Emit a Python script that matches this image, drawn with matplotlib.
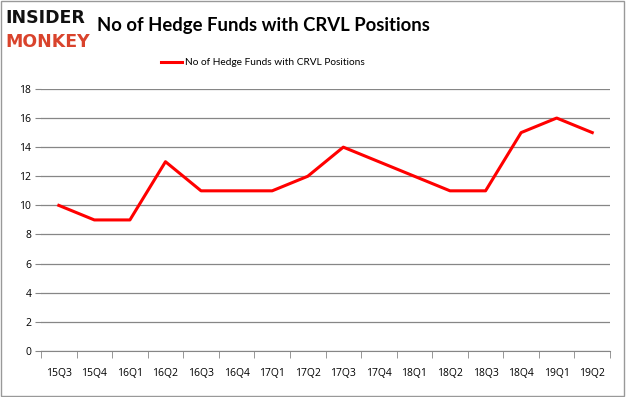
import numpy as np
import matplotlib
matplotlib.use("Agg")
import matplotlib.pyplot as plt

quarters = ["15Q3", "15Q4", "16Q1", "16Q2", "16Q3", "16Q4", "17Q1", "17Q2",
            "17Q3", "17Q4", "18Q1", "18Q2", "18Q3", "18Q4", "19Q1", "19Q2"]
funds = [10, 9, 9, 13, 11, 11, 11, 12, 14, 13, 12, 11, 11, 15, 16, 15]
series_name = "No of Hedge Funds with CRVL Positions"

plt.rcParams["font.family"] = ["Open Sans", "DejaVu Sans"]

fig = plt.figure(figsize=(6.26, 3.97), dpi=100)
ax = fig.add_axes([0.0655, 0.116, 0.909, 0.66])

x = np.arange(len(quarters))
ax.plot(x, funds, color="#ff0000", lw=2.2, label=series_name)

ax.set_xlim(-0.5, len(quarters) - 0.5)
ax.set_ylim(0, 18)
ax.set_yticks(np.arange(0, 19, 2))
ax.set_xticks(x)
ax.set_xticklabels(quarters)
ax.set_xticks(np.arange(-0.5, len(quarters), 1), minor=True)
ax.tick_params(axis="x", which="major", length=0, pad=12, labelsize=7.5)
ax.tick_params(axis="x", which="minor", length=5, color="#868686")
ax.tick_params(axis="y", length=4, color="#868686", labelsize=7.5, pad=3)
ax.grid(axis="y", color="#868686", lw=0.9)
ax.set_axisbelow(True)
for s in ["top", "right", "left"]:
    ax.spines[s].set_visible(False)
ax.spines["bottom"].set_color("#868686")

ax.legend(loc="center", bbox_to_anchor=(0.39, 1.1), frameon=False,
          prop={"family": "Lato", "size": 7.3}, handlelength=2.0,
          handletextpad=0.3)

fig.text(0.155, 0.935, series_name, fontsize=13.3, fontweight="bold",
         va="center", ha="left", family="Lato")
fig.text(0.008, 0.955, "INSIDER", fontsize=12.5, fontweight="black",
         va="center", ha="left", color="#111111", family="DejaVu Sans")
fig.text(0.008, 0.895, "MONKEY", fontsize=12.5, fontweight="black",
         va="center", ha="left", color="#d9432c", family="DejaVu Sans")

fig.patches.append(plt.Rectangle((0.002, 0.003), 0.995, 0.994,
                                 transform=fig.transFigure, fill=False,
                                 edgecolor="#999999", lw=1))
fig.savefig("out.png", dpi=100)
